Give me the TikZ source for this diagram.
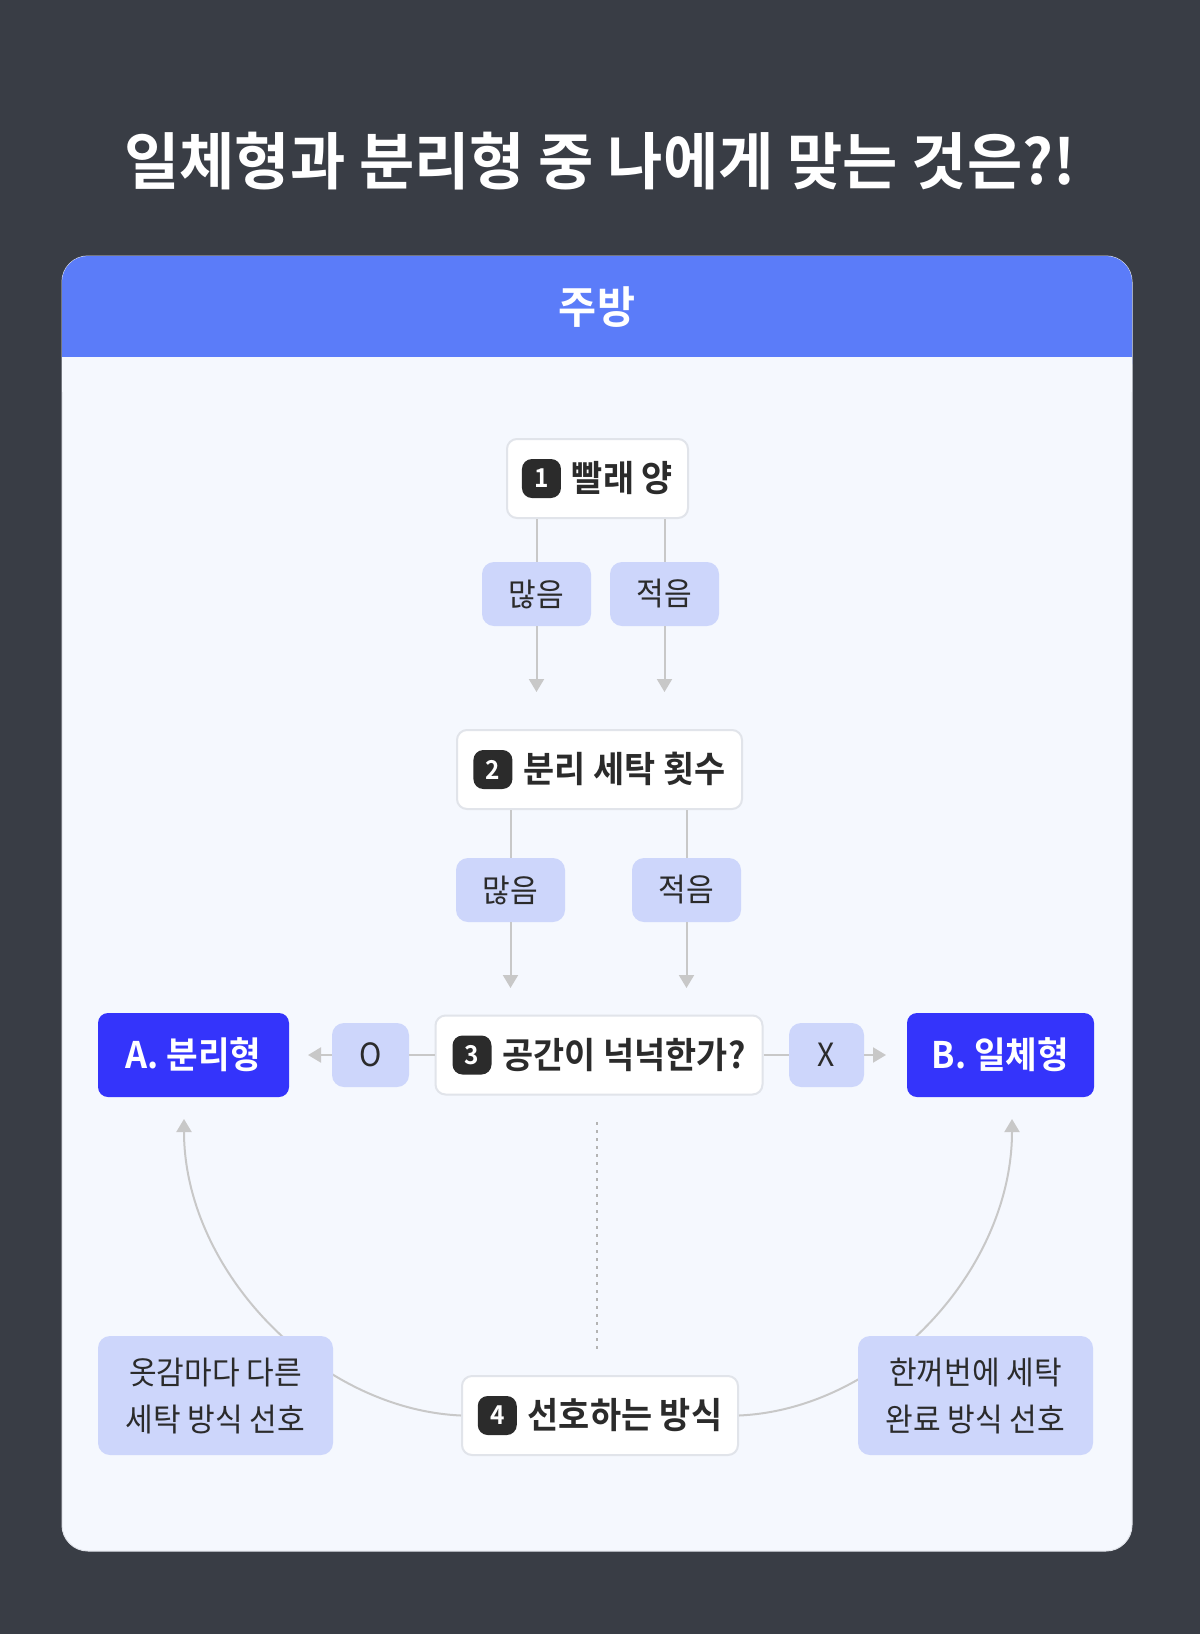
\documentclass[tikz,border=0pt]{standalone}
\usepackage{fontspec}
\setmainfont{Noto Sans CJK KR}[BoldFont={Noto Sans CJK KR Bold},FakeStretch=0.94]
\newfontfamily\titlefont{Noto Sans CJK KR Bold}[FakeStretch=0.97]
\usepackage{xcolor}
\usetikzlibrary{arrows.meta, positioning}

\definecolor{pagebg}{HTML}{393D45}
\definecolor{cardbg}{HTML}{F5F8FE}
\definecolor{headblue}{HTML}{5B7CF9}
\definecolor{tagfill}{HTML}{CDD6FB}
\definecolor{pickblue}{HTML}{3434FB}
\definecolor{ink}{HTML}{2B2B2B}
\definecolor{linkgray}{HTML}{C8C8C8}
\definecolor{boxline}{HTML}{E1E4EA}

\tikzset{
  stepbox/.style={draw=boxline, line width=1pt, fill=white, rounded corners=5pt,
    minimum height=39.5pt, inner xsep=0pt, text=ink, font=\bfseries\fontsize{18}{21}\selectfont},
  answer/.style={fill=tagfill, rounded corners=6pt, minimum width=54.5pt,
    minimum height=32pt, text=ink, font=\fontsize{16}{19}\selectfont},
  result/.style={fill=pickblue, rounded corners=5pt, minimum height=42pt,
    text=white, font=\bfseries\fontsize{18.3}{21}\selectfont},
  note/.style={fill=tagfill, rounded corners=6pt, minimum width=117.5pt,
    minimum height=59.5pt, align=center, text=ink, font=\fontsize{16}{23.5}\selectfont},
  numbadge/.style={draw=none, fill=ink, rounded corners=5pt, minimum size=19.5pt,
    inner sep=0pt, text=white, font=\bfseries\fontsize{13}{14}\selectfont},
  link/.style={draw=linkgray, line width=1pt},
  tip/.style={-{Triangle[length=6.5pt,width=7.5pt]}},
}
\newcommand{\stepnum}[1]{\tikz[baseline={([yshift=-6.6pt]num#1.center)}]\node[numbadge] (num#1) {#1};\hspace{5.5pt}}

\begin{document}
\begin{tikzpicture}[x=0.5pt, y=-0.5pt]
\useasboundingbox (0,0) rectangle (1200,1634);
\fill[pagebg] (0,0) rectangle (1200,1634);

% Title
\node[text=white, font=\titlefont\fontsize{31}{36}\selectfont] (title) at (600,161) {일체형과 분리형 중 나에게 맞는 것은?!};

% Card and header
\fill[cardbg, draw=boxline, line width=0.5pt, rounded corners=13pt] (62,256) rectangle (1132,1551);
\fill[headblue, rounded corners=13pt] (62,256) rectangle (1132,390);
\fill[cardbg] (62,357) rectangle (1132,392);
\node[text=white, font=\bfseries\fontsize{22}{26}\selectfont] (kitchen) at (597,307) {주방};

% Step 1
\node[stepbox, minimum width=90.5pt] (box1) at (597.5,478.5) {\stepnum{1}빨래 양};
\node[answer] (many1) at (536.5,594) {많음};
\node[answer] (few1) at (664.5,594) {적음};
\coordinate (tipmany1) at (536.5,692);
\coordinate (tipfew1) at (664.5,692);
\draw[link] (box1.south -| many1.north) -- (many1.north);
\draw[link] (box1.south -| few1.north) -- (few1.north);
\draw[link, tip, linkgray] (many1.south) -- (tipmany1);
\draw[link, tip, linkgray] (few1.south) -- (tipfew1);

% Step 2
\node[stepbox, minimum width=142.5pt] (box2) at (599.5,769.5) {\stepnum{2}분리 세탁 횟수};
\node[answer] (many2) at (510.5,890) {많음};
\node[answer] (few2) at (686.5,890) {적음};
\coordinate (tipmany2) at (510.5,988);
\coordinate (tipfew2) at (686.5,988);
\draw[link] (box2.south -| many2.north) -- (many2.north);
\draw[link] (box2.south -| few2.north) -- (few2.north);
\draw[link, tip, linkgray] (many2.south) -- (tipmany2);
\draw[link, tip, linkgray] (few2.south) -- (tipfew2);

% Step 3
\node[stepbox, minimum width=163.5pt] (box3) at (599,1055) {\stepnum{3}공간이 넉넉한가?};
\node[answer, minimum width=38.5pt] (yes) at (370.5,1055) {O};
\node[answer, minimum width=37.5pt] (no) at (826.5,1055) {X};
\node[result, minimum width=95.5pt] (split) at (193.5,1055) {A. 분리형};
\node[result, minimum width=93.5pt] (combo) at (1000.5,1055) {B. 일체형};
\coordinate (tipyes) at (308,1055);
\coordinate (tipno) at (886,1055);
\draw[link] (box3.west) -- (yes.east);
\draw[link] (box3.east) -- (no.west);
\draw[link, tip, linkgray] (yes.west) -- (tipyes);
\draw[link, tip, linkgray] (no.east) -- (tipno);

% Step 4
\coordinate (dotTop) at (597,1122);
\coordinate (dotEnd) at (597,1351);
\draw[linkgray!90!black, line width=1.4pt, dash pattern=on 1.4pt off 2.6pt] (dotTop) -- (dotEnd);
\node[stepbox, minimum width=138pt] (box4) at (600,1415.5) {\stepnum{4}선호하는 방식};
\coordinate (tipsplit) at (184,1119);
\coordinate (tipcombo) at (1012,1119);
\draw[link, tip, linkgray] (box4.west) .. controls (317,1409) and (184,1270) .. (tipsplit);
\draw[link, tip, linkgray] (box4.east) .. controls (883,1409) and (1012,1270) .. (tipcombo);
\node[note] (byfabric) at (215.5,1395.5) {옷감마다 다른\\세탁 방식 선호};
\node[note] (atonce) at (975.5,1395.5) {한꺼번에 세탁\\완료 방식 선호};
\end{tikzpicture}
\end{document}
